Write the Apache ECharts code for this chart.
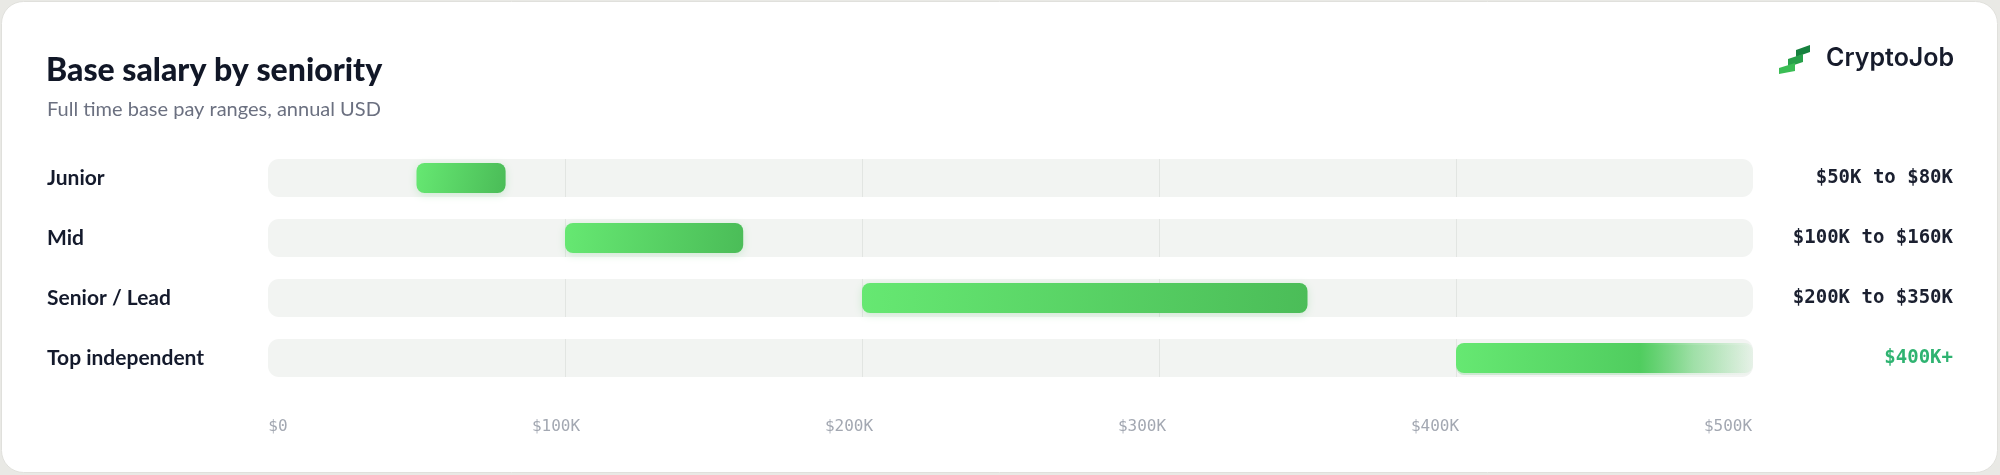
<!DOCTYPE html>
<html>
<head>
<meta charset="utf-8">
<script src="https://cdn.jsdelivr.net/npm/echarts@6/dist/echarts.min.js"></script>
<style>
  html, body { margin: 0; padding: 0; background: #e9e9e5; }
  #chart { width: 2000px; height: 475px; }
</style>
</head>
<body>
<div id="chart"></div>
<script>
// ---- data ----
const categories = ['Junior', 'Mid', 'Senior / Lead', 'Top independent'];
const lowValues  = [50000, 100000, 200000, 400000];
const highValues = [80000, 160000, 350000, null];   // null = open-ended ("+")
const axisMin = 0;
const axisMax = 500000;
const axisStep = 100000;
const tickLabels = ['$0', '$100K', '$200K', '$300K', '$400K', '$500K'];

// ---- helpers ----
const k = v => '$' + (v / 1000) + 'K';
const rangeText = i => highValues[i] == null ? k(lowValues[i]) + '+' : k(lowValues[i]) + ' to ' + k(highValues[i]);

const trackData = categories.map((c, i) => [axisMin, axisMax, i]);
const barData = categories.map((c, i) => [lowValues[i], highValues[i] == null ? axisMax : highValues[i], i, highValues[i] == null ? 1 : 0]);

const chart = echarts.init(document.getElementById('chart'), null, { renderer: 'canvas' });

const monoFont = '"DejaVu Sans Mono", "Liberation Mono", monospace';
const tickRich = {
  t0: { padding: [0, 0, 0, 20] },
  t1: { padding: [0, 18, 0, 0] },
  t2: { padding: [0, 26, 0, 0] },
  t3: { padding: [0, 34, 0, 0] },
  t4: { padding: [0, 42, 0, 0] },
  t5: { padding: [0, 50, 0, 0] }
};
Object.keys(tickRich).forEach(key => Object.assign(tickRich[key], {
  fontFamily: monoFont, fontSize: 16, color: '#a3a8b2', lineHeight: 18
}));

const option = {
  animation: false,
  backgroundColor: 'transparent',
  title: [
    {
      text: 'Base salary by seniority',
      left: 46, top: 54, padding: 0,
      textStyle: { fontFamily: 'Lato', fontWeight: 900, fontSize: 32, lineHeight: 34, color: '#111727' }
    },
    {
      text: 'Full time base pay ranges, annual USD',
      left: 47, top: 99, padding: 0,
      textStyle: { fontFamily: 'Lato', fontWeight: 400, fontSize: 20, lineHeight: 22, color: '#6b7080' }
    }
  ],
  graphic: {
    elements: [
      {
        type: 'rect', z: -100, silent: true,
        shape: { x: 1.5, y: 1.5, width: 1996, height: 471, r: 22 },
        style: { fill: '#ffffff', stroke: '#e0e0dc', lineWidth: 1 }
      },
      {
        type: 'group', left: 1779, top: 45,
        children: [
          { type: 'polygon', shape: { points: [[17, 5], [31, 0], [31, 7], [17, 12]] }, style: { fill: '#17813f' } },
          { type: 'polygon', shape: { points: [[9, 14], [24, 9], [24, 17], [9, 22]] }, style: { fill: '#27a04a' } },
          { type: 'polygon', shape: { points: [[0, 23], [16, 18], [16, 26], [0, 29]] }, style: { fill: '#3bbd55' } }
        ]
      },
      {
        type: 'text', left: 1826, top: 46,
        style: { text: 'CryptoJob', fontFamily: 'Inter', fontWeight: 600, fontSize: 25, fill: '#161b2b' }
      }
    ]
  },
  grid: { left: 268, right: 247, top: 148, bottom: 87, containLabel: false },
  xAxis: {
    type: 'value',
    min: axisMin, max: axisMax, interval: axisStep,
    axisLine: { show: false }, axisTick: { show: false }, splitLine: { show: false },
    axisLabel: {
      margin: 30,
      formatter: (v) => {
        const i = Math.round((v - axisMin) / axisStep);
        return '{t' + i + '|' + tickLabels[i] + '}';
      },
      rich: tickRich
    }
  },
  yAxis: [
    {
      type: 'category', data: categories, inverse: true,
      axisLine: { show: false }, axisTick: { show: false }, splitLine: { show: false },
      axisLabel: {
        align: 'left', margin: 221,
        fontFamily: 'Lato', fontWeight: 700, fontSize: 21, color: '#141a2c'
      }
    },
    {
      type: 'category', data: categories, inverse: true, position: 'right',
      axisLine: { show: false }, axisTick: { show: false }, splitLine: { show: false },
      axisLabel: {
        align: 'right', margin: 200,
        formatter: (v, i) => (highValues[i] == null ? '{g|' : '{d|') + rangeText(i) + '}',
        rich: {
          d: { fontFamily: monoFont, fontWeight: 'bold', fontSize: 19, color: '#1b2030' },
          g: { fontFamily: monoFont, fontWeight: 'bold', fontSize: 19, color: '#2fb371' }
        }
      }
    }
  ],
  series: [
    {
      type: 'custom', name: 'track', silent: true,
      encode: { x: [0, 1], y: 2 },
      data: trackData,
      renderItem: (params, api) => {
        const idx = api.value(2);
        const p0 = api.coord([api.value(0), idx]);
        const p1 = api.coord([api.value(1), idx]);
        const h = 38;
        const children = [{
          type: 'rect',
          shape: { x: p0[0], y: p0[1] - h / 2, width: p1[0] - p0[0], height: h, r: 11 },
          style: { fill: '#f2f4f2' }
        }];
        for (let v = axisMin + axisStep; v < axisMax; v += axisStep) {
          const x = Math.round(api.coord([v, idx])[0]) + 0.5;
          children.push({
            type: 'line',
            shape: { x1: x, y1: p0[1] - h / 2, x2: x, y2: p0[1] + h / 2 },
            style: { stroke: '#e2e5e2', lineWidth: 1 }
          });
        }
        return { type: 'group', children };
      },
      z: 1
    },
    {
      type: 'custom', name: 'range', silent: true,
      encode: { x: [0, 1], y: 2 },
      data: barData,
      renderItem: (params, api) => {
        const idx = api.value(2);
        const open = api.value(3) === 1;
        const p0 = api.coord([api.value(0), idx]);
        const p1 = api.coord([api.value(1), idx]);
        const h = 30;
        const fill = open
          ? new echarts.graphic.LinearGradient(0, 0, 1, 0, [
              { offset: 0, color: '#66e872' },
              { offset: 0.62, color: '#50cd5f' },
              { offset: 0.8, color: 'rgba(80,205,95,0.45)' },
              { offset: 1, color: 'rgba(80,205,95,0.06)' }
            ])
          : new echarts.graphic.LinearGradient(0, 0, 1, 0.6, [
              { offset: 0, color: '#66e872' },
              { offset: 1, color: '#4bbd58' }
            ]);
        return {
          type: 'rect',
          shape: { x: p0[0], y: p0[1] - h / 2, width: p1[0] - p0[0], height: h, r: 8 },
          style: {
            fill,
            shadowBlur: open ? 0 : 8,
            shadowOffsetY: 2,
            shadowColor: 'rgba(70,190,90,0.22)'
          }
        };
      },
      z: 3
    }
  ]
};

chart.setOption(option);
</script>
</body>
</html>
